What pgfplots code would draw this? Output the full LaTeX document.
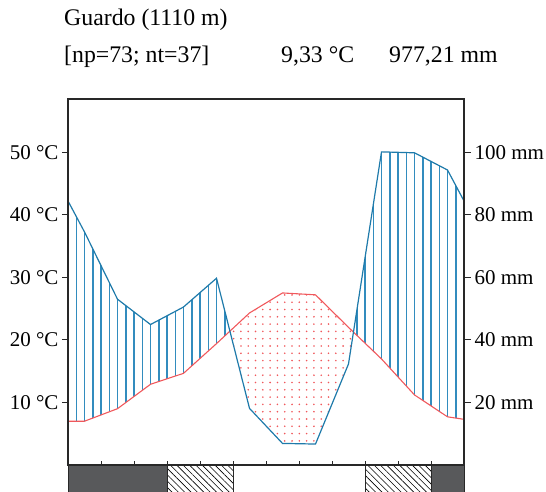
\documentclass[border=0pt]{standalone}
\usepackage{pgfplots}
\pgfplotsset{compat=1.18}
\usepackage{pgfplotstable}
\usepgfplotslibrary{fillbetween}
\usetikzlibrary{patterns,patterns.meta}
\usepackage{fontspec}
\setmainfont{Liberation Serif}
\definecolor{pblue}{RGB}{30,122,170}
\definecolor{hblue}{RGB}{50,140,190}
\definecolor{tred}{RGB}{240,88,92}
\definecolor{bardark}{RGB}{88,89,91}
\definecolor{axgray}{RGB}{40,40,40}

\pgfdeclarepatterninherentlycolored{vhatchblue}{\pgfqpoint{0bp}{-1bp}}{\pgfqpoint{8.25bp}{9bp}}{\pgfqpoint{8.25bp}{8bp}}{%
  \pgfsetstrokecolor{hblue}%
  \pgfsetlinewidth{1.5bp}%
  \pgfpathmoveto{\pgfqpoint{2bp}{-1bp}}%
  \pgfpathlineto{\pgfqpoint{2bp}{9bp}}%
  \pgfusepath{stroke}}

\pgfplotstableread{
x T P
0 7.0 84.4
0.5 7.0 74.5
1.5 9.0 53.0
2.5 12.9 44.9
3.5 14.65 50.5
4.5 19.4 59.7
5.5 24.3 18.1
6.5 27.5 6.9
7.5 27.2 6.7
8.5 22.0 32.3
9.5 16.95 100.1
10.5 11.2 99.8
11.5 7.7 94.3
12 7.3 84.4
}\climate

\pgfplotsset{
  common/.style={
    at={(0,0)}, anchor=south west,
    scale only axis, width=396bp, height=366bp,
    xmin=0, xmax=12,
    axis line style={axgray, line width=1.1bp},
    tick style={axgray, line width=0.8bp},
    tick label style={font=\fontsize{21bp}{24bp}\selectfont},
  }
}

\begin{document}
\begin{tikzpicture}
% main axis with data
\begin{axis}[common, ymin=0, ymax=58.5, clip=false, set layers,
  xtick={1,...,11}, xticklabels={}, xtick pos=bottom,
  tick align=inside, major tick length=3.5bp,
  ytick=\empty]
  \addplot[name path=T, tred, line width=1.1bp] table[x=x,y=T]{\climate};
  \addplot[name path=P, pblue, line width=1.2bp] table[x=x,y expr=\thisrow{P}/2]{\climate};
  \addplot[pattern=vhatchblue]
     fill between[of=P and T, split,
       every segment no 1/.style={pattern={Dots[distance=7.3bp,radius=0.9bp]}, pattern color=tred}];
  % frost bars below the axis
  \addplot[fill=bardark, draw=axgray, line width=0.8bp] coordinates {(0,0) (3,0) (3,-4.3) (0,-4.3)} --cycle;
  \addplot[pattern={Lines[angle=-45,distance=4.5bp,line width=0.6bp]}, pattern color=black, draw=axgray, line width=0.8bp] coordinates {(3,0) (5,0) (5,-4.3) (3,-4.3)} --cycle;
  \addplot[pattern={Lines[angle=-45,distance=4.5bp,line width=0.6bp]}, pattern color=black, draw=axgray, line width=0.8bp] coordinates {(9,0) (11,0) (11,-4.3) (9,-4.3)} --cycle;
  \addplot[fill=bardark, draw=axgray, line width=0.8bp] coordinates {(11,0) (12,0) (12,-4.3) (11,-4.3)} --cycle;
\end{axis}

% left temperature axis
\begin{axis}[common, ymin=0, ymax=58.5, hide x axis, axis y line*=left,
  ytick={10,20,30,40,50},
  yticklabels={10 °C,20 °C,30 °C,40 °C,50 °C},
  tick align=outside, major tick length=6bp]
  \addplot[draw=none] coordinates {(0,0) (12,58.5)};
\end{axis}

% right precipitation axis
\begin{axis}[common, ymin=0, ymax=117, hide x axis, axis y line*=right,
  ytick={20,40,60,80,100},
  yticklabels={20 mm,40 mm,60 mm,80 mm,100 mm},
  tick align=outside, major tick length=7bp]
  \addplot[draw=none] coordinates {(0,0) (12,117)};
\end{axis}

\node[anchor=base west, inner sep=0pt, font=\fontsize{23.8bp}{28bp}\selectfont] at (-4bp,439bp) {Guardo (1110 m)};
\node[anchor=base west, inner sep=0pt, font=\fontsize{23.8bp}{28bp}\selectfont] at (-4bp,402bp) {[np=73; nt=37]};
\node[anchor=base west, inner sep=0pt, font=\fontsize{23.8bp}{28bp}\selectfont] at (213bp,402bp) {9,33 °C};
\node[anchor=base west, inner sep=0pt, font=\fontsize{23.8bp}{28bp}\selectfont] at (321bp,402bp) {977,21 mm};
\pgfresetboundingbox
\path[use as bounding box] (-68bp,-27bp) rectangle (478bp,465bp);
\end{tikzpicture}
\end{document}
